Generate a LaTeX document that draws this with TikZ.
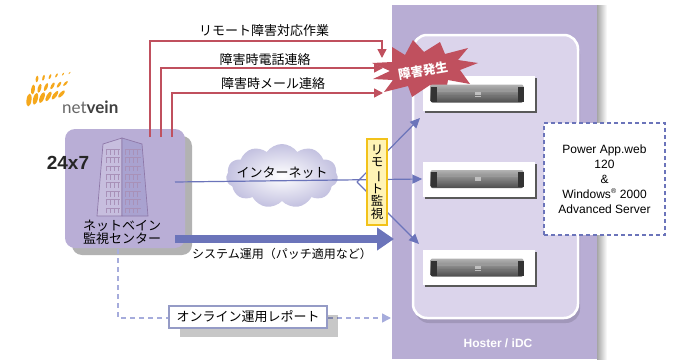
\documentclass[tikz,border=0pt]{standalone}
\usepackage{fontspec}
\setmainfont{Liberation Sans}
\newfontfamily\jp{Noto Sans CJK JP}
\newfontfamily\lato{Lato}
\usetikzlibrary{arrows.meta,shapes.symbols,shadows,calc}

\definecolor{band}{HTML}{B8ADD4}
\definecolor{panel}{HTML}{DBD4EB}
\definecolor{boxpurple}{HTML}{B9AED6}
\definecolor{alarm}{HTML}{C0505E}
\definecolor{netblue}{HTML}{6B74BA}
\definecolor{report}{HTML}{A6ACDC}
\definecolor{logo}{HTML}{F5A81C}
\definecolor{memo}{HTML}{FFF3B5}
\definecolor{memoedge}{HTML}{F2C21A}
\definecolor{bldedge}{HTML}{8E78A8}
\definecolor{bldwin}{HTML}{A891B8}
\definecolor{cloudedge}{HTML}{C3C1E0}

\begin{document}
\begin{tikzpicture}[x=1pt,y=-1pt,
  lbl/.style={font=\jp\fontsize{12.5}{13}\selectfont, inner sep=0pt},
  redline/.style={draw=alarm, line width=1.4pt, -{Triangle[length=9pt,width=9pt]}},
  netline/.style={draw=netblue, line width=1.2pt, -{Triangle[length=10pt,width=9pt]}},
  serverbox/.style={fill=white, minimum width=112pt, minimum height=35pt, inner sep=0pt,
    drop shadow={shadow xshift=2pt,shadow yshift=-2pt,fill=black!65,opacity=1}},
  win/.style={draw=bldwin, line width=0.5pt},
  reportline/.style={draw=report, line width=1.5pt, dash pattern=on 5pt off 4pt,
    -{Triangle[length=9pt,width=9pt]}}]
\useasboundingbox (0,0) rectangle (683,359);

% data centre band with its shadow
\shade[left color=black!35, right color=white] (597,5) rectangle (607,359);
\fill[band] (392,5) rectangle (597,359);

% inner rack panel
\fill[black, opacity=0.12, rounded corners=14pt] (415,40) rectangle (580,323);
\draw[white, line width=2.5pt, fill=panel, rounded corners=14pt] (413,35) rectangle (578,318);
\node[white, font=\bfseries\fontsize{12}{14}\selectfont] (idc) at (498,343) {Hoster / iDC};

% servers
\node[serverbox] (srv1) at (478.5,93.5) {};
\node[serverbox] (srv2) at (478.5,179) {};
\node[serverbox] (srv3) at (478.5,267.5) {};

% alarm burst
\fill[alarm] (392,47) -- (405,55) -- (413,40) -- (424,52) -- (440,42) -- (445,54)
  -- (468,48) -- (458,60) -- (478,63) -- (460,70) -- (470,84) -- (448,80)
  -- (445,97) -- (430,85) -- (412,97) -- (408,86) -- (384,92) -- (393,80)
  -- (373,79) -- (390,71) -- (372,63) -- (392,62) -- cycle;
\node[white, font=\jp\bfseries\fontsize{12.5}{12.5}\selectfont, rotate=10, inner sep=0pt] (burst) at (423,71) {障害発生};

% rack server faces
\foreach \s in {srv1,srv2,srv3} {
  \shade[top color=black!30, bottom color=black!70, middle color=black!50, rounded corners=2pt]
    ($(\s.center)+(-48,-9)$) rectangle ($(\s.center)+(45,9)$);
  \fill[black!80] ($(\s.center)+(-48,-7)$) rectangle ($(\s.center)+(-42,8)$);
  \fill[black!80] ($(\s.center)+(39,-7)$) rectangle ($(\s.center)+(45,8)$);
  \fill[black!40] ($(\s.center)+(-42,-4)$) rectangle ($(\s.center)+(39,-2)$);
  \fill[black!25] ($(\s.center)+(-4,-2)$) rectangle ($(\s.center)+(2,3)$);
  \draw[black!55, line width=0.5pt] ($(\s.center)+(-40,2)$) -- ($(\s.center)+(37,2)$);
}

% software box
\node[draw=netblue, line width=1.2pt, dash pattern=on 4pt off 3pt, fill=white,
  minimum width=121pt, minimum height=112pt, inner sep=0pt] (os) at (604.5,179) {};
\node[align=center, font=\fontsize{12}{15}\selectfont, inner sep=0pt] (ostext) at (os.center)
  {Power App.web\\120\\\&\\Windows\textsuperscript{\scriptsize ®} 2000\\Advanced Server};

% monitoring centre
\node[fill=boxpurple, rounded corners=10pt, minimum width=120pt, minimum height=119pt,
  inner sep=0pt, drop shadow={shadow xshift=7pt,shadow yshift=-7pt,fill=black,opacity=0.3}]
  (center) at (125,188.5) {};
\node[font=\bfseries\fontsize{19}{19}\selectfont, text=black!85, inner sep=0pt] (h24) at (68,163) {24x7};
% building
\draw[bldedge, line width=0.7pt, fill=boxpurple!80!white] (103,144) -- (122,138) -- (122,216) -- (97,216) -- cycle;
\draw[bldedge, line width=0.7pt, fill=boxpurple!80!netblue] (122,138) -- (142,144) -- (148,216) -- (122,216) -- cycle;
\foreach \r in {0,...,7} {
  \pgfmathsetmacro\yy{149+\r*8.4}
  \draw[win] (105.5,\yy) -- (119.5,\yy);
  \draw[win] (124.5,\yy) -- (140.5,\yy);
  \foreach \c in {106.5,110.5,114.5,118.5,125.5,129.5,133.5,137.5} {
    \draw[win] (\c,\yy) -- (\c,\yy+5.5);
  }
}
\node[lbl, align=center, font=\jp\fontsize{13}{13}\selectfont] (ctrtext) at (122,232) {ネットベイン\\監視センター};

% company logo
\foreach \i in {0,...,5} {
  \foreach \j in {0,1,2} {
    \pgfmathsetmacro\cx{29+6.5*\i+4*\j}
    \pgfmathsetmacro\cy{100-10.5*\j-1.2*\i}
    \pgfmathsetmacro\ll{6.5-1.6*\j-0.35*\i}
    \pgfmathsetmacro\ww{2.5-0.6*\j-0.15*\i}
    \pgfmathsetmacro\tt{-(8+7*\i)}
    \fill[logo, rotate around={\tt:(\cx,\cy)}] (\cx,\cy) ellipse [x radius=\ww, y radius=\ll];
  }
}
\node[anchor=base west, inner sep=0pt, font=\lato\fontsize{17}{17}\selectfont, text=black!60] (logo) at (62,113)
  {net\textcolor{black!75}{\bfseries vein}};

% alarm notification lines
\coordinate (r1s) at (150,137);
\coordinate (r2s) at (161,137);
\coordinate (r3s) at (172,137);
\coordinate (r1e) at (382,58);
\coordinate (r2e) at (383,68);
\coordinate (r3e) at (383,93);
\draw[redline] (r1s) |- (382,41) -- (r1e);
\draw[redline] (r2s) |- (r2e);
\draw[redline] (r3s) |- (r3e);
\node[lbl, font=\jp\fontsize{13}{13}\selectfont] (l1) at (264,31) {リモート障害対応作業};
\node[lbl, font=\jp\fontsize{13}{13}\selectfont] (l2) at (265,60) {障害時電話連絡};
\node[lbl, font=\jp\fontsize{13}{13}\selectfont] (l3) at (273,84) {障害時メール連絡};

% internet
\node[cloud, cloud puffs=11, cloud puff arc=110, aspect=1.9, minimum width=112pt, minimum height=64pt,
  inner color=white, outer color=cloudedge, draw=none] (net) at (282,176) {};
\node[lbl, font=\jp\fontsize{13}{13}\selectfont] (nettext) at (282,173) {インターネット};

% monitoring lines
\coordinate (cs) at (175,182);
\coordinate (fk) at (357,182);
\coordinate (t1) at (420,118);
\coordinate (t3) at (419,244);
\draw[netline] (cs) -- (srv2.west);
\draw[netline] (fk) -- (t1);
\draw[netline] (fk) -- (t3);
\node[fill=memo, draw=memoedge, line width=1.2pt, minimum width=20pt, minimum height=86pt,
  inner sep=0pt, align=center, font=\jp\fontsize{12.5}{12.5}\selectfont] (mon) at (377,182)
  {リ\\モ\\\rotatebox[origin=c]{-90}{ー}\\ト\\監\\視};

% operations arrow
\coordinate (os0) at (175,239);
\coordinate (os1) at (394,239);
\draw[netblue, line width=8pt, -{Triangle[length=17pt,width=22pt]}] (os0) -- (os1);
\node[lbl, font=\jp\fontsize{12}{12}\selectfont] (optext) at (282,254) {システム運用（パッチ適用など）};

% report line
\coordinate (rps) at (118,249);
\coordinate (rpe) at (391,318);
\draw[reportline] (rps) |- (rpe);
\node[fill=white, draw=report!90!black, line width=1.2pt, minimum width=158pt, minimum height=22pt,
  inner sep=0pt, font=\jp\fontsize{13}{13}\selectfont,
  drop shadow={shadow xshift=11pt,shadow yshift=-9pt,fill=black,opacity=0.22}] (rep) at (248,317) {オンライン運用レポート};
\end{tikzpicture}
\end{document}
